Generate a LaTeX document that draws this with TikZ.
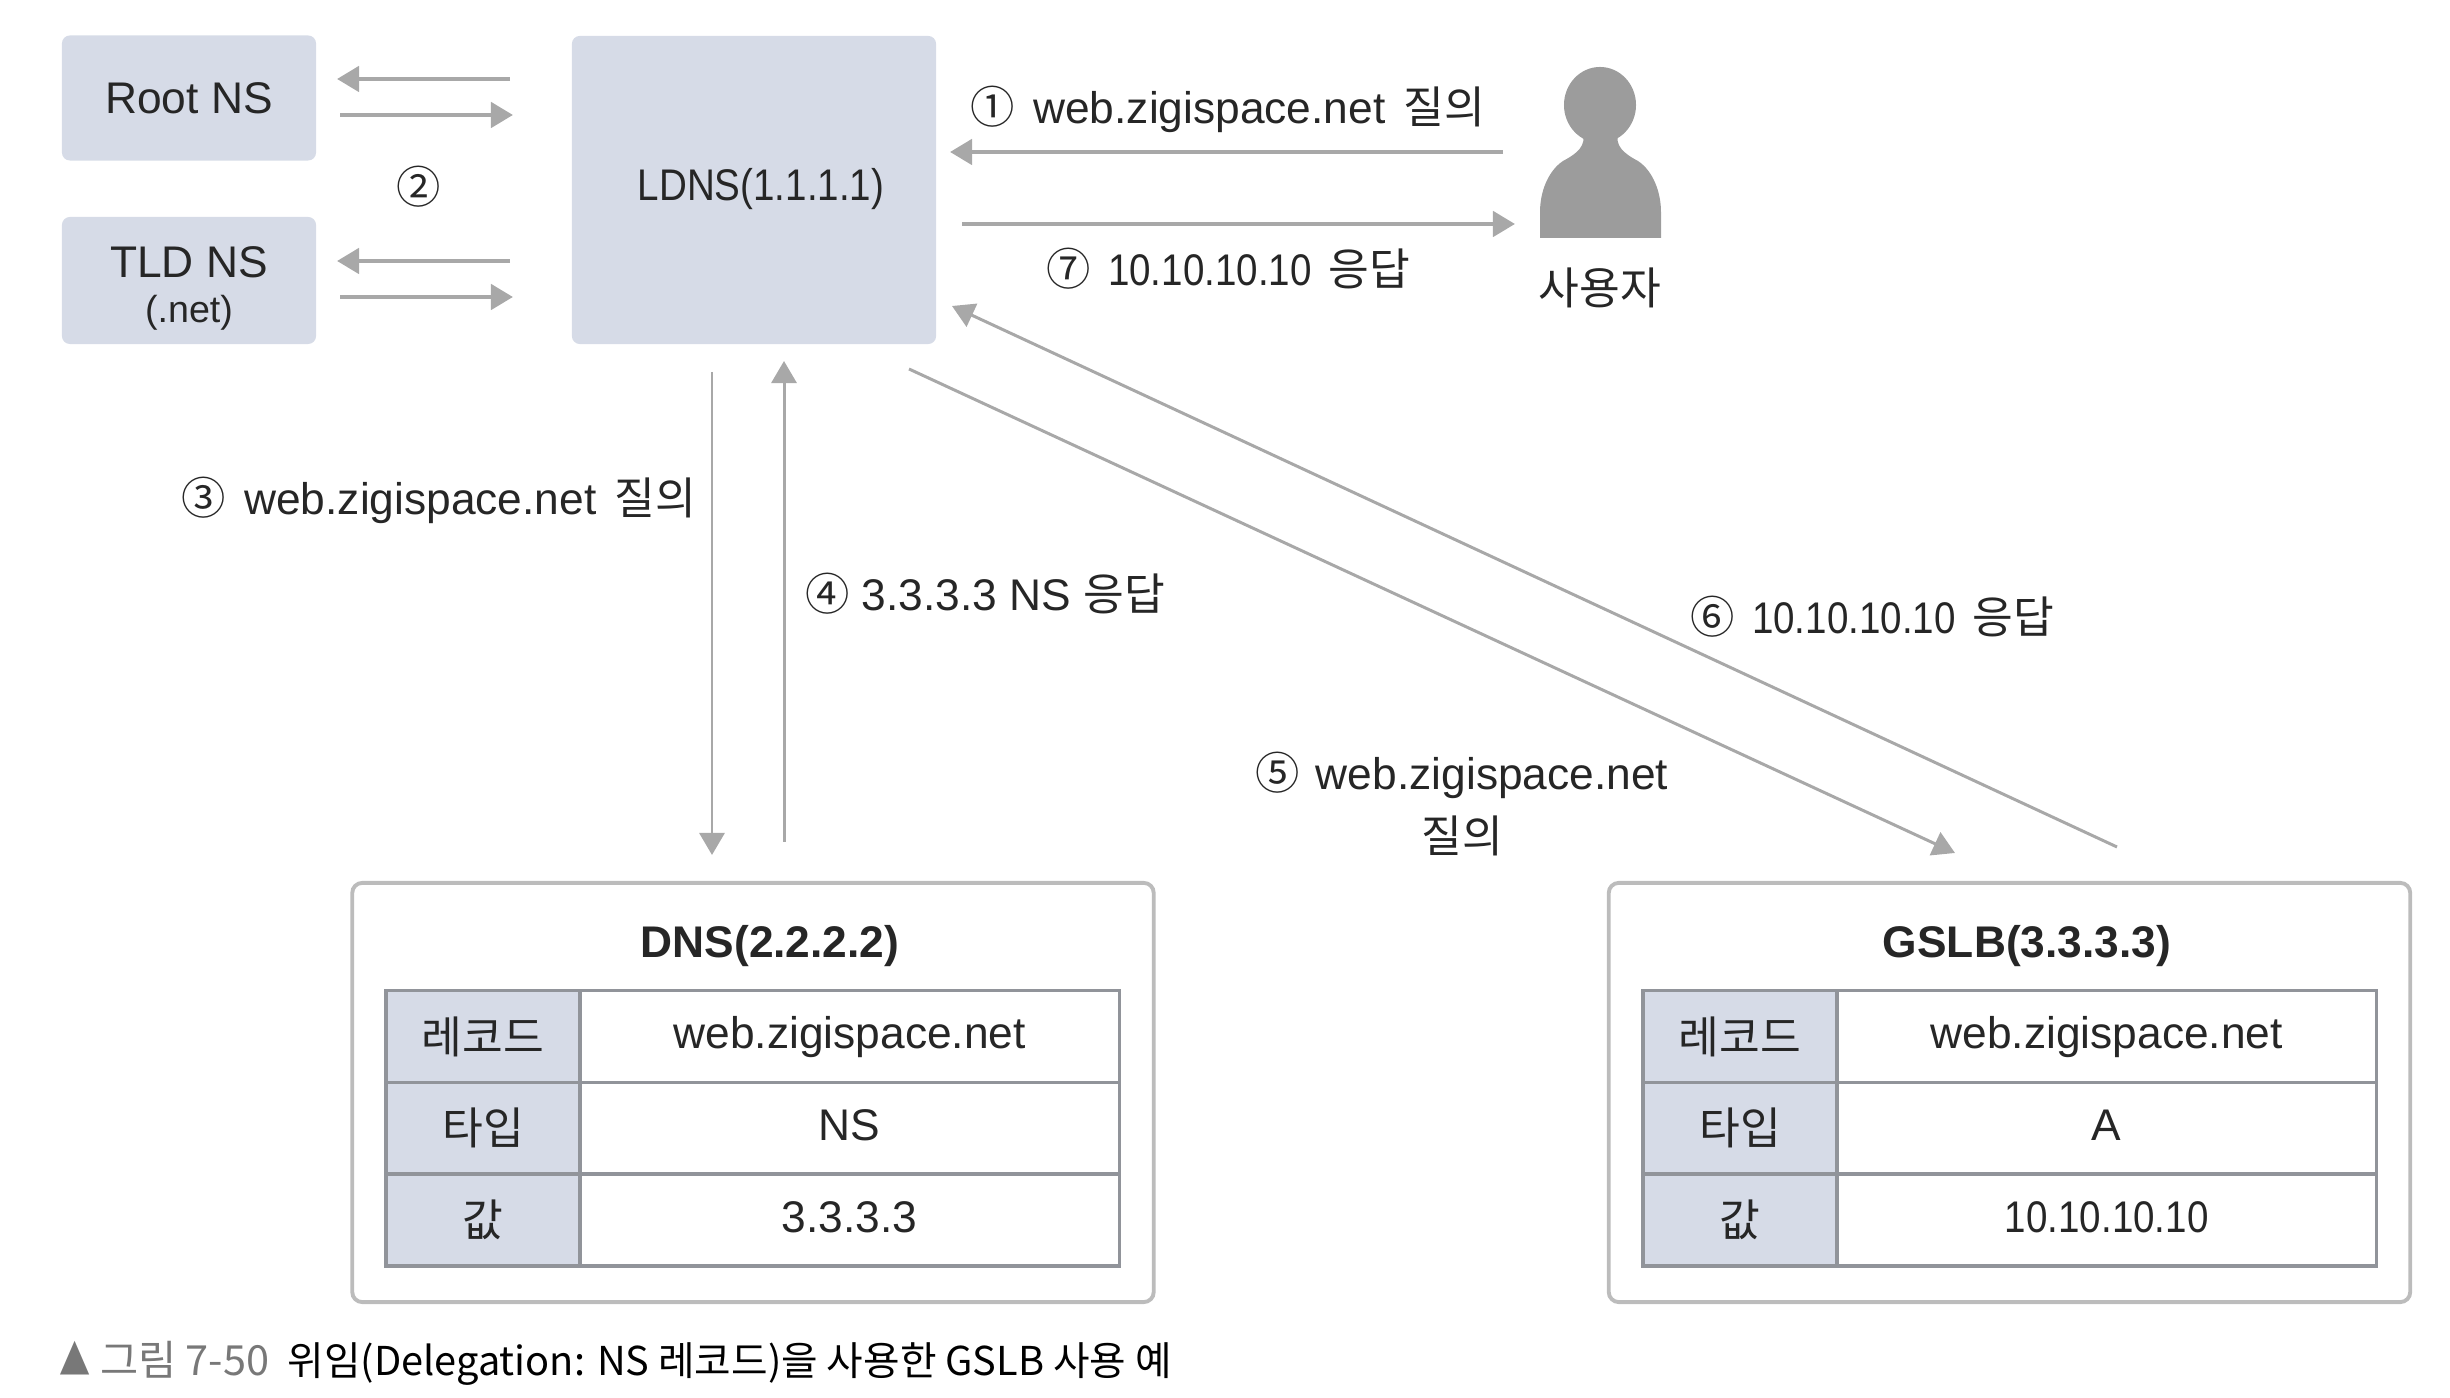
\documentclass[tikz,border=0pt]{standalone}
\usepackage{fontspec}
\setmainfont{Liberation Sans}
\newfontfamily\kr{Noto Sans CJK KR}
\newfontfamily\tight[FakeStretch=0.87]{Liberation Sans}
\usetikzlibrary{arrows.meta, positioning, shapes.geometric}
\definecolor{boxcolor}{RGB}{214,219,231}
\definecolor{linecolor}{RGB}{168,168,168}
\definecolor{gridcolor}{RGB}{145,148,154}
\definecolor{framecolor}{RGB}{188,188,188}
\definecolor{personcolor}{RGB}{156,156,156}
\definecolor{captioncolor}{RGB}{120,120,120}

\begin{document}
\begin{tikzpicture}[
    x=0.01cm, y=-0.01cm,
    >={Triangle[length=2.2mm, width=2.5mm]},
    every node/.style={font=\fontsize{12.6}{15}\selectfont, text=black!85},
    server/.style={fill=boxcolor, rounded corners=0.08cm, inner sep=0pt, align=center},
    frame/.style={draw=framecolor, line width=1.1pt, fill=white, rounded corners=0.1cm, minimum width=8.01cm, minimum height=4.19cm},
    keycell/.style={draw=gridcolor, line width=1pt, fill=boxcolor, minimum width=1.94cm, minimum height=0.917cm, inner sep=0pt, outer sep=0pt},
    valcell/.style={draw=gridcolor, line width=1pt, minimum width=5.39cm, minimum height=0.917cm, inner sep=0pt, outer sep=0pt, text height=0.86em, text depth=0.17em},
    flow/.style={->, draw=linecolor, line width=1.3pt},
    thinflow/.style={->, draw=linecolor, line width=0.85pt},
]
    \useasboundingbox (0,0) rectangle (2450,1398);

    % Name servers
    \node[server, minimum width=2.54cm, minimum height=1.25cm] (root) at (189,98) {Root NS};
    \node[server, minimum width=2.54cm, minimum height=1.27cm] (tld) at (189,280.5) {};
    \node[align=center, inner sep=0pt] (tldlabel) at (189,288) {TLD NS\\[-2.2pt]{\fontsize{10.7}{12}\selectfont(.net)}};
    \node[server, minimum width=3.64cm, minimum height=3.08cm] (ldns) at (754,190) {};
    \node[inner sep=0pt] (ldnslabel) at (761,189) {\tight LDNS(1.1.1.1)};
    \node (stepb) at (419,187) {\kr ②};

    \coordinate (rootin) at (337,79);
    \coordinate (rootout) at (510,79);
    \coordinate (rootback) at (340,115);
    \coordinate (rootend) at (513,115);
    \coordinate (tldin) at (337,261);
    \coordinate (tldout) at (510,261);
    \coordinate (tldback) at (340,297);
    \coordinate (tldend) at (513,297);
    \draw[flow] (rootout) -- (rootin);
    \draw[flow] (rootback) -- (rootend);
    \draw[flow] (tldout) -- (tldin);
    \draw[flow] (tldback) -- (tldend);

    % User
    \node[ellipse, fill=personcolor, minimum width=0.72cm, minimum height=0.76cm, inner sep=0pt] (head) at (1600,105) {};
    \fill[personcolor] (1583,132) .. controls (1586,146) and (1578,153) .. (1563,161)
        .. controls (1548,171) and (1540,192) .. (1540,212) -- (1540,238) -- (1661,238) -- (1661,212)
        .. controls (1661,192) and (1653,171) .. (1638,161)
        .. controls (1623,153) and (1615,146) .. (1618,132) -- cycle;
    \node (user) at (1600,288) {\kr 사용자};

    \coordinate (userout) at (1503,152);
    \coordinate (ldnsin) at (950,152);
    \coordinate (ldnsout) at (962,224);
    \coordinate (userin) at (1515,224);
    \draw[flow] (userout) -- (ldnsin);
    \draw[flow] (ldnsout) -- (userin);
    \node (stepa) at (1228,109) {{\kr ①}\kern1.7pt{} web.zigispace.net\kern1.7pt{} {\kr 질의}};
    \node (stepg) at (1228,269) {{\kr ⑦}\kern1.5pt{} {\tight 10.10.10.10}\kern1.2pt{} {\kr 응답}};

    % Delegation
    \coordinate (dnsask) at (712,372);
    \coordinate (dnsin) at (712,855);
    \coordinate (dnsout) at (784,842);
    \coordinate (dnsend) at (784,361);
    \draw[thinflow] (dnsask) -- (dnsin);
    \draw[thinflow] (dnsout) -- (dnsend);
    \node (stepc) at (439,500) {{\kr ③}\kern1.7pt{} web.zigispace.net\kern1.7pt{} {\kr 질의}};
    \node (stepd) at (985,594) {{\kr ④} 3.3.3.3 NS {\kr 응답}};

    % GSLB query
    \coordinate (gslbask) at (909,369);
    \coordinate (gslbin) at (1955,853);
    \coordinate (gslbout) at (2117,847);
    \coordinate (gslbend) at (952,306);
    \draw[thinflow] (gslbask) -- (gslbin);
    \draw[thinflow] (gslbout) -- (gslbend);
    \node[align=center, font=\fontsize{12.6}{18}\selectfont] (stepe) at (1462,804) {{\kr ⑤}\kern1pt{} web.zigispace.net\\{\kr 질의}};
    \node (stepf) at (1872,617) {{\kr ⑥}\kern1.5pt{} {\tight 10.10.10.10}\kern1.2pt{} {\kr 응답}};

    % DNS table
    \node[frame] (dnsframe) at (753,1092.5) {};
    \node[font=\fontsize{12.6}{15}\selectfont\bfseries] (dnstitle) at (770,946) {DNS(2.2.2.2)};
    \node[keycell] (dnskey1) at (483,1036.5) {\kr 레코드};
    \node[keycell, below=0pt of dnskey1] (dnskey2) {\kr 타입};
    \node[keycell, below=0pt of dnskey2] (dnskey3) {\kr 값};
    \node[valcell, right=0pt of dnskey1] (dnsval1) {web.zigispace.net};
    \node[valcell, right=0pt of dnskey2] (dnsval2) {NS};
    \node[valcell, right=0pt of dnskey3] (dnsval3) {3.3.3.3};

    % GSLB table
    \node[frame] (gslbframe) at (2009.5,1092.5) {};
    \node[font=\fontsize{12.6}{15}\selectfont\bfseries] (gslbtitle) at (2027,946) {GSLB(3.3.3.3)};
    \node[keycell] (gslbkey1) at (1740,1036.5) {\kr 레코드};
    \node[keycell, below=0pt of gslbkey1] (gslbkey2) {\kr 타입};
    \node[keycell, below=0pt of gslbkey2] (gslbkey3) {\kr 값};
    \node[valcell, right=0pt of gslbkey1] (gslbval1) {web.zigispace.net};
    \node[valcell, right=0pt of gslbkey2] (gslbval2) {A};
    \node[valcell, right=0pt of gslbkey3] (gslbval3) {\tight 10.10.10.10};

    % Caption
    \node[anchor=west, inner sep=0pt, text=black, font=\kr\fontsize{11.3}{14}\selectfont] (caption) at (59,1363)
        {\textcolor{captioncolor}{\fontsize{11.8}{14}\selectfont\scalebox{0.75}[1]{▲} 그림 7-50}\kern2.7pt{} 위임(Delegation: NS 레코드)을 사용한 GSLB 사용 예};
\end{tikzpicture}
\end{document}
